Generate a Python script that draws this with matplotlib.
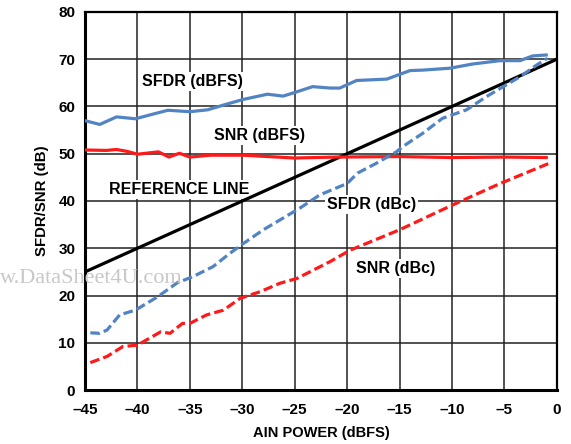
import matplotlib
matplotlib.use("Agg")
import matplotlib.pyplot as plt

# ================= DATOS =================
# SFDR (dBFS) - azul continuo
sfdr_dbfs_x = [-45, -43.6, -42.0, -40.2, -38.5, -37.1, -35.0, -33.3, -31.8, -29.9, -27.6, -26.1,
               -24.8, -23.3, -21.6, -20.7, -19.1, -16.2, -14.0, -12.8, -10.2, -8.0, -5.4, -3.5,
               -2.3, -1.0]
sfdr_dbfs_y = [57.0, 56.2, 57.8, 57.4, 58.4, 59.2, 58.9, 59.3, 60.3, 61.5, 62.6, 62.2,
               63.1, 64.2, 63.9, 63.9, 65.5, 65.8, 67.6, 67.7, 68.1, 69.0, 69.7, 69.7,
               70.7, 70.9]

# SNR (dBFS) - rojo continuo
snr_dbfs_x = [-45, -43, -42, -41, -40, -38, -37, -36, -35, -33, -30, -25, -21, -15, -10, -5, -1]
snr_dbfs_y = [50.8, 50.7, 50.9, 50.5, 49.9, 50.4, 49.3, 50.1, 49.3, 49.7, 49.7, 49.1, 49.3,
              49.4, 49.2, 49.3, 49.2]

# SFDR (dBc) - azul discontinuo
sfdr_dbc_x = [-44.5, -43.6, -42.9, -41.7, -40.2, -38.1, -36.2, -34.7, -32.8, -31.2, -29.9, -28.0,
              -26.4, -24.5, -22.6, -20.0, -19.0, -17.2, -15.3, -14.7, -12.8, -10.9, -8.6, -6.7,
              -5.1, -3.5, -1.9, -0.9]
sfdr_dbc_y = [12.1, 12.0, 12.7, 15.9, 16.9, 19.7, 22.7, 24.0, 26.1, 28.9, 31.0, 33.9,
              36.0, 38.5, 41.3, 43.7, 45.9, 48.0, 50.4, 51.5, 54.3, 57.5, 59.3, 62.1,
              64.2, 66.3, 68.8, 70.2]

# SNR (dBc) - rojo discontinuo
snr_dbc_x = [-44.5, -42.9, -41.4, -40.0, -37.8, -36.9, -35.7, -35.0, -33.4, -31.8, -30.2, -28.3,
             -26.4, -24.8, -21.6, -19.7, -15.0, -9.9, -5.4, -0.7]
snr_dbc_y = [5.8, 7.1, 9.2, 9.5, 12.3, 12.0, 14.1, 14.1, 15.9, 16.9, 19.4, 20.8,
             22.6, 23.6, 27.2, 29.6, 33.9, 39.2, 43.7, 48.0]

# Línea de referencia
ref_x = [-45, 0]
ref_y = [25, 70]

x_ticks = [-45, -40, -35, -30, -25, -20, -15, -10, -5, 0]
x_tick_labels = ["–45", "–40", "–35", "–30", "–25", "–20", "–15", "–10", "–5", "0"]
y_ticks = [0, 10, 20, 30, 40, 50, 60, 70, 80]

AZUL = "#5284c4"
ROJO = "#ff1a1a"

plt.rcParams["font.family"] = ["Liberation Sans", "DejaVu Sans"]

fig = plt.figure(figsize=(5.71, 4.44), dpi=100)
ax = fig.add_axes([0.149, 0.1216, 0.826, 0.8514])

# marca de agua
fig.text(0.0, 0.363, "w.DataSheet4U.com", family="Liberation Serif", fontsize=16,
         color="#c8c8c8", ha="left", va="baseline", zorder=0)

ax.set_facecolor("none")
lw = 2.3
guion = (0, (3, 1.3))
ax.plot(ref_x, ref_y, color="black", linewidth=lw, zorder=3)
ax.plot(sfdr_dbfs_x, sfdr_dbfs_y, color=AZUL, linewidth=lw, zorder=3)
ax.plot(snr_dbfs_x, snr_dbfs_y, color=ROJO, linewidth=lw, zorder=3)
ax.plot(sfdr_dbc_x, sfdr_dbc_y, color=AZUL, linewidth=lw, linestyle=guion, zorder=3)
ax.plot(snr_dbc_x, snr_dbc_y, color=ROJO, linewidth=lw, linestyle=guion, zorder=3)

ax.set_xlim(-45, 0)
ax.set_ylim(0, 80)
ax.set_xticks(x_ticks)
ax.set_xticklabels(x_tick_labels)
ax.set_yticks(y_ticks)
ax.tick_params(length=0, labelsize=11)
ax.tick_params(axis="x", pad=9)
ax.tick_params(axis="y", pad=7)
for lbl in ax.get_xticklabels() + ax.get_yticklabels():
    lbl.set_fontweight("bold")
ax.grid(True, color="#222222", linewidth=1.1, zorder=1)
ax.set_axisbelow(True)
for s in ax.spines.values():
    s.set_linewidth(1.6)
ax.spines["left"].set_linewidth(2.2)
ax.spines["bottom"].set_linewidth(2.2)

ax.set_xlabel("AIN POWER (dBFS)", fontsize=10.5, fontweight="bold", labelpad=7)
ax.set_ylabel("SFDR/SNR (dB)", fontsize=10.8, fontweight="bold", labelpad=7)

caja = dict(facecolor="white", edgecolor="none", pad=1.5)
etiquetas = [(-34.8, 65.2, "SFDR (dBFS)"), (-28.4, 53.8, "SNR (dBFS)"),
             (-36.0, 42.5, "REFERENCE LINE"), (-17.7, 39.2, "SFDR (dBc)"),
             (-15.4, 25.8, "SNR (dBc)")]
for tx, ty, t in etiquetas:
    ax.text(tx, ty, t, fontsize=11.5, fontweight="bold", ha="center", va="center",
            bbox=caja, zorder=2)

fig.savefig("out.png", dpi=100)
